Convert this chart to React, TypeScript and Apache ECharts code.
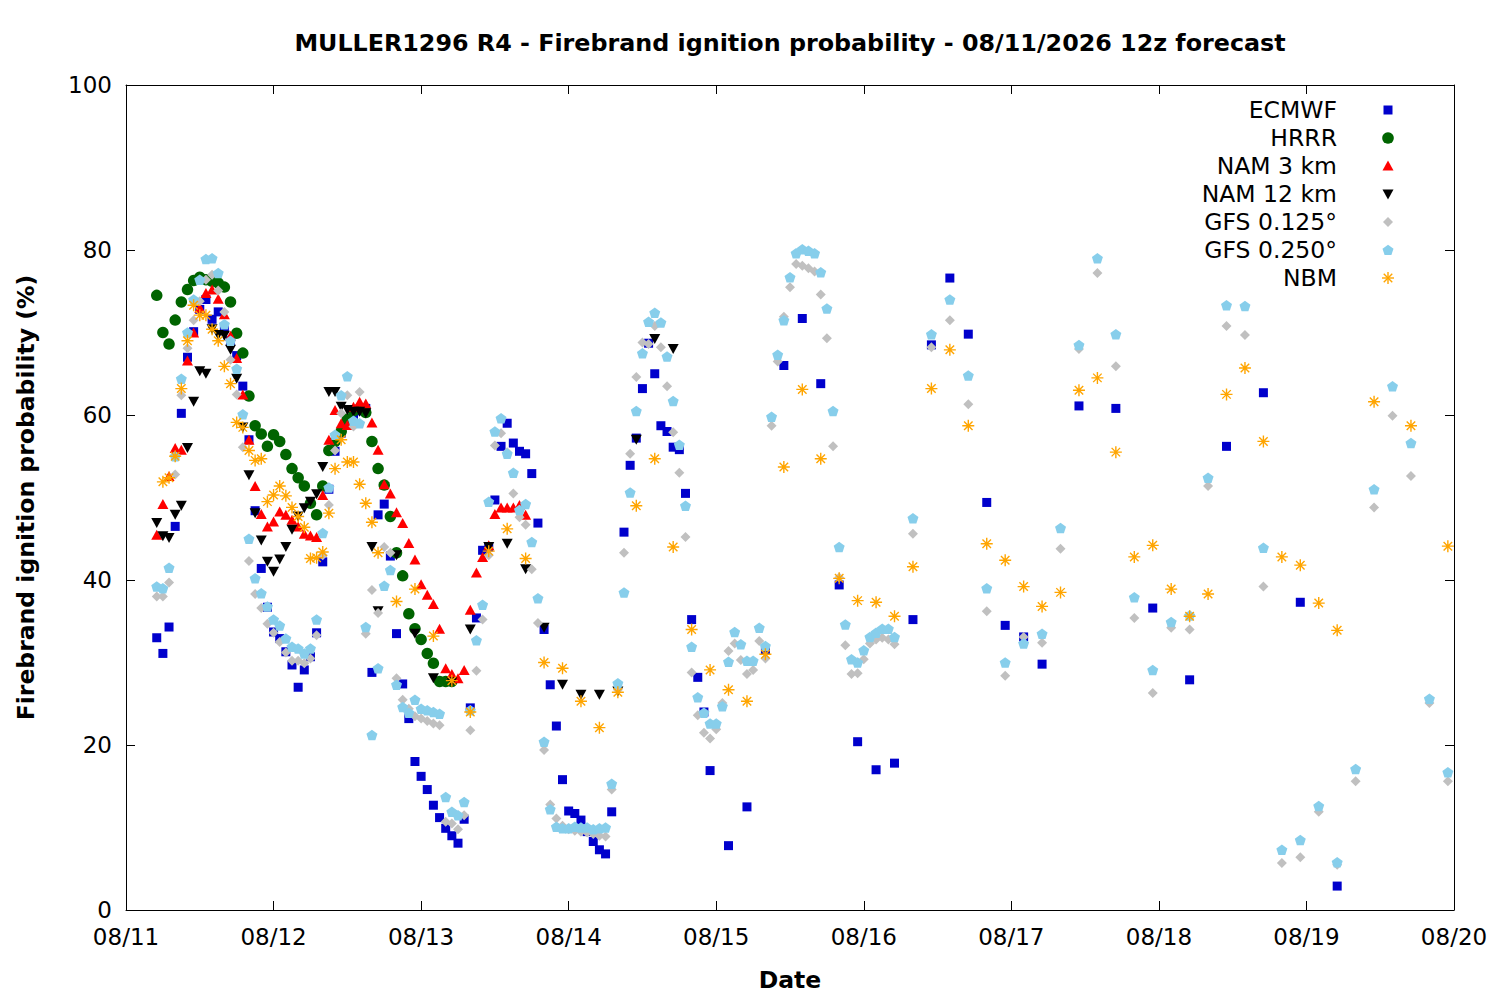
import React, { useEffect, useRef } from "react";
import * as echarts from "echarts";

// ---------- Tick labels ----------
const dateLabels = ["08/11", "08/12", "08/13", "08/14", "08/15", "08/16", "08/17", "08/18", "08/19", "08/20"];
const yTicks = [0, 20, 40, 60, 80, 100];

// ---------- Data (hours since 08/11 00 local; values in %) ----------
// ECMWF: hourly from h5, then 3-hourly from h98, then 6-hourly from h155
const ecmwfHourly = [
  33.0, 31.1, 34.3, 46.5, 60.2, 67.0, 70.1, 72.8, 74.0, 71.6,
  72.5, 70.5, 69.0, 67.2, 63.5, 57.0, 48.4, 41.4, 36.7, 33.7,
  32.9, 31.3, 29.7, 27.0, 29.1, 30.7, 33.6, 42.2, 51.0, 55.6,
  57.8, 59.3, 60.0, 60.5, 60.8, 28.8, 47.9, 49.2, 42.9, 33.5,
  27.4, 23.2, 18.0, 16.2, 14.6, 12.7, 11.2, 9.9, 9.0, 8.1,
  11.0, 24.5, 35.4, 43.6, 44.0, 49.7, 56.2, 59.0, 56.6, 55.6,
  55.3, 52.9, 46.9, 34.0, 27.3, 22.3, 15.8, 12.0, 11.7, 10.9,
  9.5, 8.3, 7.3, 6.8, 11.9, null, 45.8, 53.9, 57.2, 63.2,
  68.7, 65.0, 58.7, 58.0, 56.1, 55.8, 50.5, 35.2, 28.2, 24.0,
  16.9,
];
const ecmwf3h = [7.8, 12.5, 31.5, 66.0, 71.7, 63.8, 39.4, 20.4, 17.0, 17.8, 35.2, 68.5, 76.6, 69.8, 49.4, 34.5, 33.1, 29.8];
const ecmwf6h = [61.1, 60.8, 36.6, 27.9, 56.2, 62.7, 37.3, 2.9];

// HRRR: hourly h5..h53
const hrrrHourly = [
  74.5, 70.0, 68.6, 71.5, 73.7, 75.2, 76.3, 76.7, 76.4, 76.2,
  76.0, 75.5, 73.7, 69.9, 67.5, 62.3, 58.7, 57.7, 56.2, 57.6,
  56.8, 55.2, 53.5, 52.4, 51.4, 49.3, 47.9, 51.4, 55.7, 56.8,
  58.0, 59.5, 60.5, 60.8, 60.3, 56.8, 53.5, 51.5, 47.7, 43.3,
  40.5, 35.9, 34.1, 32.8, 31.1, 29.9, 27.7, 27.7, 27.7,
];

// NAM 3 km: hourly h5..h65
const nam3Hourly = [
  45.5, 49.2, 52.6, 56.0, 55.8, 66.6, 70.0, 73.0, 74.8, 75.2,
  74.1, 72.2, 69.6, 66.9, 62.5, 57.0, 51.4, 48.0, 46.5, 47.1,
  48.3, 47.9, 47.3, 46.5, 45.6, 45.4, 45.2, 50.3, 57.0, 60.6,
  59.0, 58.8, 61.0, 61.6, 61.4, 59.1, 55.8, 51.6, 50.5, 48.2,
  46.9, 44.5, 42.5, 39.5, 38.2, 37.1, 34.1, 29.3, 28.6, 28.1,
  29.1, 36.4, 40.9, 42.8, 44.2, 48.0, 48.8, 48.8, 48.8, 49.1,
  47.9,
];

// NAM 12 km: hourly h5..h41, then 3-hourly h44..h89
const nam12Hourly = [
  46.9, 45.3, 45.1, 47.9, 49.0, 56.0, 61.6, 65.3, 65.0, 70.4,
  69.7, 69.6, 67.9, 64.4, 58.5, 52.7, 48.1, 44.8, 42.2, 41.0,
  42.5, 44.0, 46.1, 47.7, 48.7, 49.5, 50.4, 53.7, 62.8, 62.8,
  61.0, 60.6, 60.4, 60.4, 60.2, 44.0, 36.2,
];
const nam12ThreeHourly = [43.0, 33.5, 28.1, 27.6, 34.0, 44.0, 44.4, 41.3, 34.2, 27.3, 26.1, 26.1, 26.5, 57.0, 69.2, 68.0];

// GFS 0.125°: hourly h5..h125, then 3-hourly h128..h215
const gfs125Hourly = [
  38.0, 38.0, 39.7, 52.8, 62.4, 68.1, 71.5, 73.8, 76.4, 77.0,
  75.1, 72.5, 66.7, 62.5, 56.1, 42.3, 38.3, 36.6, 34.7, 33.6,
  32.5, 31.2, 30.2, 30.2, 29.9, 30.5, 33.3, 43.0, 49.1, 55.7,
  60.2, 62.4, 58.6, 62.8, 33.5, 38.8, 36.0, 44.0, 43.3, 28.1,
  25.5, 24.4, 23.5, 23.2, 22.9, 22.6, 22.4, 10.7, 10.5, 9.8,
  11.5, 21.8, 29.0, 35.2, 43.0, 56.3, 57.8, 55.5, 50.5, 47.6,
  46.7, 41.3, 34.8, 19.4, 12.8, 11.1, 10.2, 9.8, 9.6, 9.5,
  9.4, 9.2, 9.0, 8.9, 14.6, 26.7, 43.3, 55.3, 64.6, 68.8,
  68.6, 70.8, 68.2, 63.5, 57.9, 53.0, 45.2, 28.8, 23.6, 21.5,
  20.8, 21.9, 25.1, 31.4, 32.3, 30.3, 28.6, 29.1, 32.6, 30.5,
  58.7, 66.5, 71.9, 75.5, 78.3, 78.1, 77.8, 77.4, 74.6, 69.3,
  56.2, 40.3, 32.1, 28.6, 28.7, 30.4, 32.3, 32.8, 33.0, 32.8,
  32.2,
];
const gfs125ThreeHourly = [
  45.6, 68.2, 71.5, 61.3, 36.2, 28.4, 33.1, 32.4, 43.8, 68.0,
  77.2, 65.9, 35.4, 26.3, 34.2, 34.0, 51.4, 70.8, 69.7, 39.2,
  5.7, 6.4, 11.9, 5.5, 15.6, 48.8, 59.9, 52.6, 25.1, 15.6,
];

// GFS 0.250°: hourly h5..h125, then 3-hourly h128..h215
const gfs250Hourly = [
  39.2, 39.0, 41.5, 55.0, 64.4, 70.0, 74.0, 76.4, 78.9, 79.0,
  77.2, 71.0, 69.0, 65.6, 60.1, 45.0, 40.2, 38.4, 36.8, 35.2,
  34.5, 32.9, 31.9, 31.7, 31.1, 31.7, 35.2, 45.7, 51.2, 57.6,
  62.4, 64.7, 59.3, 59.0, 34.3, 21.2, 29.3, 39.3, 41.2, 27.3,
  24.6, 23.9, 25.5, 24.4, 24.2, 24.0, 23.8, 13.7, 11.9, 11.5,
  13.1, 24.2, 32.7, 37.0, 49.5, 58.0, 59.6, 55.3, 53.0, 48.5,
  49.2, 44.6, 37.8, 20.4, 12.2, 10.1, 9.9, 9.9, 10.1, 10.0,
  10.0, 9.8, 9.9, 10.0, 15.3, 27.5, 38.5, 50.6, 60.5, 67.5,
  71.3, 72.4, 71.2, 67.1, 61.7, 56.4, 49.0, 31.9, 25.8, 23.9,
  22.6, 22.6, 24.7, 30.1, 33.7, 32.2, 30.2, 30.2, 34.2, 32.0,
  59.8, 67.3, 71.5, 76.7, 79.6, 80.1, 79.9, 79.6, 77.3, 72.9,
  60.5, 44.0, 34.6, 30.4, 30.0, 31.5, 33.1, 33.6, 34.1, 34.1,
  33.1,
];
const gfs250ThreeHourly = [
  47.5, 69.8, 74.0, 64.8, 39.0, 30.0, 32.3, 33.5, 46.3, 68.5,
  79.0, 69.8, 37.9, 29.1, 34.9, 35.7, 52.4, 73.3, 73.2, 43.9,
  7.3, 8.5, 12.6, 5.8, 17.1, 51.0, 63.5, 56.6, 25.6, 16.7,
];

// NBM: hourly h6..h41, then 3-hourly h44..h197, then 6-hourly h203..h215
const nbmHourly = [
  51.9, 52.4, 55.0, 63.2, 69.0, 73.3, 72.1, 72.1, 70.4, 69.0,
  65.9, 63.8, 59.1, 58.5, 55.7, 54.5, 54.7, 49.5, 50.3, 51.4,
  50.2, 48.8, 47.7, 46.4, 42.6, 42.7, 43.4, 48.1, 53.5, 57.0,
  54.3, 54.3, 51.6, 49.3, 47.0, 43.3,
];
const nbmThreeHourly = [
  37.4, 38.9, 33.2, 27.8, 24.0, 43.5, 46.2, 42.6, 30.0, 29.3,
  25.3, 22.1, 26.4, 49.0, 54.7, 44.0, 34.0, 29.1, 26.7, 25.3,
  31.0, 53.7, 63.1, 54.7, 40.2, 37.5, 37.3, 35.6, 41.6, 63.2,
  67.9, 58.7, 44.4, 42.4, 39.2, 36.8, 38.5, 63.0, 64.5, 55.5,
  42.8, 44.2, 38.9, 35.6, 38.3, 62.5, 65.7, 56.8, 42.8, 41.8,
  37.2, 33.9,
];
const nbmSixHourly = [61.6, 58.7, 44.1];

// ---------- helpers ----------
function seg(startHour: number, step: number, values: (number | null)[]) {
  const out: [number, number][] = [];
  values.forEach((v, i) => {
    if (v !== null) out.push([startHour + i * step, v]);
  });
  return out;
}

const FONT = "DejaVu Sans";

const COLORS = {
  ecmwf: "#0000cc",
  hrrr: "#006400",
  nam3: "#ff0000",
  nam12: "#000000",
  gfs125: "#c0c0c0",
  gfs250: "#87ceeb",
  nbm: "#ffa500",
};

const SYM_TRI_DOWN = "path://M0,0L10,0L5,9Z";
const SYM_PENTAGON = "path://M5,0L10,3.63L8.09,9.51L1.91,9.51L0,3.63Z";
const SYM_ASTERISK = "path://M5,0L5,10M0,5L10,5M1.46,1.46L8.54,8.54M8.54,1.46L1.46,8.54";

const legendNames = ["ECMWF", "HRRR", "NAM 3 km", "NAM 12 km", "GFS 0.125°", "GFS 0.250°", "NBM"];

function buildLegendGraphics() {
  const els: any[] = [];
  const tx = 1337;
  const ix = 1388;
  legendNames.forEach((name, i) => {
    const y = 110 + i * 28;
    els.push({
      type: "text",
      x: tx,
      y,
      style: {
        text: name,
        fill: "#000",
        font: `23.5px "${FONT}"`,
        textAlign: "right",
        textVerticalAlign: "middle",
        align: "right",
        verticalAlign: "middle",
      },
    });
    if (i === 0) {
      els.push({ type: "rect", shape: { x: ix - 4.5, y: y - 4.5, width: 9, height: 9 }, style: { fill: COLORS.ecmwf } });
    } else if (i === 1) {
      els.push({ type: "circle", shape: { cx: ix, cy: y, r: 5.8 }, style: { fill: COLORS.hrrr } });
    } else if (i === 2) {
      els.push({ type: "polygon", shape: { points: [[ix - 5.5, y + 4.5], [ix + 5.5, y + 4.5], [ix, y - 5.5]] }, style: { fill: COLORS.nam3 } });
    } else if (i === 3) {
      els.push({ type: "polygon", shape: { points: [[ix - 5.5, y - 4.5], [ix + 5.5, y - 4.5], [ix, y + 5.5]] }, style: { fill: COLORS.nam12 } });
    } else if (i === 4) {
      els.push({ type: "polygon", shape: { points: [[ix, y - 5], [ix + 5, y], [ix, y + 5], [ix - 5, y]] }, style: { fill: COLORS.gfs125 } });
    } else if (i === 5) {
      els.push({
        type: "polygon",
        shape: { points: [[ix, y - 5.2], [ix + 5.5, y - 1.2], [ix + 3.4, y + 5], [ix - 3.4, y + 5], [ix - 5.5, y - 1.2]] },
        style: { fill: COLORS.gfs250 },
      });
    } else {
      const r = 6;
      const d = r * 0.707;
      const st = { stroke: COLORS.nbm, lineWidth: 1.4 };
      els.push({ type: "line", shape: { x1: ix, y1: y - r, x2: ix, y2: y + r }, style: st });
      els.push({ type: "line", shape: { x1: ix - r, y1: y, x2: ix + r, y2: y }, style: st });
      els.push({ type: "line", shape: { x1: ix - d, y1: y - d, x2: ix + d, y2: y + d }, style: st });
      els.push({ type: "line", shape: { x1: ix + d, y1: y - d, x2: ix - d, y2: y + d }, style: st });
    }
  });
  return els;
}

function buildOption(): any {
  const axisCommon = {
    axisLine: { show: true, onZero: false, lineStyle: { color: "#000", width: 1 } },
    axisTick: { show: true, inside: true, length: 9, lineStyle: { color: "#000", width: 1 } },
    splitLine: { show: false },
  };
  const xLabelFmt = (v: number) => dateLabels[Math.round(v / 24)] ?? "";
  const yLabelFmt = (v: number) => (yTicks.includes(v) ? String(v) : "");

  const sc = (name: string, data: [number, number][], symbol: string, size: any, itemStyle: any) => ({
    name,
    type: "scatter",
    data,
    symbol,
    symbolSize: size,
    itemStyle: { opacity: 1, ...itemStyle },
    silent: true,
    xAxisIndex: 0,
    yAxisIndex: 0,
  });

  return {
    animation: false,
    backgroundColor: "#fff",
    grid: { left: 126, right: 46, top: 85, bottom: 90, containLabel: false },
    xAxis: [
      {
        type: "value",
        min: 0,
        max: 216,
        interval: 24,
        position: "bottom",
        ...axisCommon,
        axisLabel: { formatter: xLabelFmt, fontSize: 23, color: "#000", margin: 15, fontFamily: FONT },
        name: "Date",
        nameLocation: "middle",
        nameGap: 58,
        nameTextStyle: { fontSize: 23.5, fontWeight: "bold", color: "#000", fontFamily: FONT },
      },
      {
        type: "value",
        min: 0,
        max: 216,
        interval: 24,
        position: "top",
        ...axisCommon,
        axisLabel: { show: false },
      },
    ],
    yAxis: [
      {
        type: "value",
        min: 0,
        max: 100,
        interval: 20,
        position: "left",
        ...axisCommon,
        axisLabel: { formatter: yLabelFmt, fontSize: 23, color: "#000", margin: 14, fontFamily: FONT },
        name: "Firebrand ignition probability (%)",
        nameLocation: "middle",
        nameGap: 88,
        nameTextStyle: { fontSize: 23.5, fontWeight: "bold", color: "#000", fontFamily: FONT },
      },
      {
        type: "value",
        min: 0,
        max: 100,
        interval: 20,
        position: "right",
        ...axisCommon,
        axisLabel: { show: false },
      },
    ],
    graphic: [
      {
        type: "text",
        x: 790,
        y: 43,
        style: {
          text: "MULLER1296 R4 - Firebrand ignition probability - 08/11/2026 12z forecast",
          fill: "#000",
          font: `bold 23.8px "${FONT}"`,
          textAlign: "center",
          textVerticalAlign: "middle",
          align: "center",
          verticalAlign: "middle",
        },
      },
      ...buildLegendGraphics(),
    ],
    series: [
      sc("ECMWF", [...seg(5, 1, ecmwfHourly), ...seg(98, 3, ecmwf3h), ...seg(155, 6, ecmwf6h)], "rect", 9, { color: COLORS.ecmwf }),
      sc("HRRR", seg(5, 1, hrrrHourly), "circle", 11.5, { color: COLORS.hrrr }),
      sc("NAM 3 km", seg(5, 1, nam3Hourly), "triangle", [11, 10], { color: COLORS.nam3 }),
      sc("NAM 12 km", [...seg(5, 1, nam12Hourly), ...seg(44, 3, nam12ThreeHourly)], SYM_TRI_DOWN, [11, 10], { color: COLORS.nam12 }),
      sc("GFS 0.125°", [...seg(5, 1, gfs125Hourly), ...seg(128, 3, gfs125ThreeHourly)], "diamond", [10, 10], { color: COLORS.gfs125 }),
      sc("GFS 0.250°", [...seg(5, 1, gfs250Hourly), ...seg(128, 3, gfs250ThreeHourly)], SYM_PENTAGON, [11, 10.5], { color: COLORS.gfs250 }),
      sc(
        "NBM",
        [...seg(6, 1, nbmHourly), ...seg(44, 3, nbmThreeHourly), ...seg(203, 6, nbmSixHourly)],
        SYM_ASTERISK,
        [12, 12],
        { color: "none", borderColor: COLORS.nbm, borderWidth: 1.4 }
      ),
    ],
  };
}

export default function App() {
  const ref = useRef<HTMLDivElement>(null);
  useEffect(() => {
    if (!ref.current) return;
    const chart = echarts.init(ref.current, null, { renderer: "svg" });
    chart.setOption(buildOption());
    return () => chart.dispose();
  }, []);
  return (
    <div
      ref={ref}
      style={{ position: "absolute", left: 0, top: 0, width: 1500, height: 1000, background: "#fff" }}
    />
  );
}
